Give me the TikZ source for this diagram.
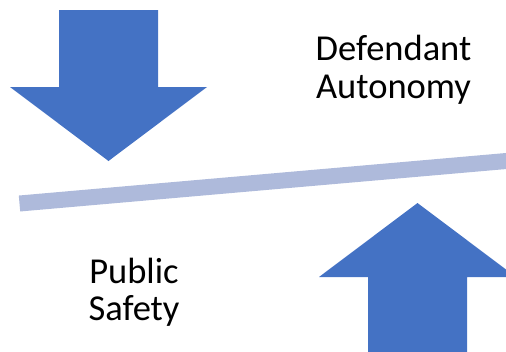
\documentclass[tikz,border=0pt]{standalone}
\usepackage{fontspec}
\setmainfont{Carlito}
\definecolor{arrowblue}{HTML}{4472C4}
\definecolor{beamblue}{HTML}{AEBADB}
\begin{document}
\begin{tikzpicture}[x=1pt,y=-1pt,
  bigarrow/.style={fill=arrowblue,draw=none},
  label/.style={font=\fontsize{36.5}{38}\selectfont,align=center,inner sep=0pt,anchor=base}]
\useasboundingbox (0,0) rectangle (506,351);
% down arrow
\fill[bigarrow] (59,10) -- (158,10) -- (158,87) -- (207,87) -- (108.5,161) -- (10,87) -- (59,87) -- cycle;
% up arrow
\fill[bigarrow] (368,360) -- (368,277) -- (319,277) -- (417.5,203) -- (516,277) -- (467,277) -- (467,360) -- cycle;
% beam
\draw[beamblue,line width=16pt,line cap=butt] (19.5,203.5) -- (520,159.8);
% labels
\node[label] (def) at (393.5,60) {Defendant};
\node[label] (aut) at (393.5,98) {Autonomy};
\node[label] (pub) at (134,283) {Public};
\node[label] (saf) at (134,320) {Safety};
\end{tikzpicture}
\end{document}
